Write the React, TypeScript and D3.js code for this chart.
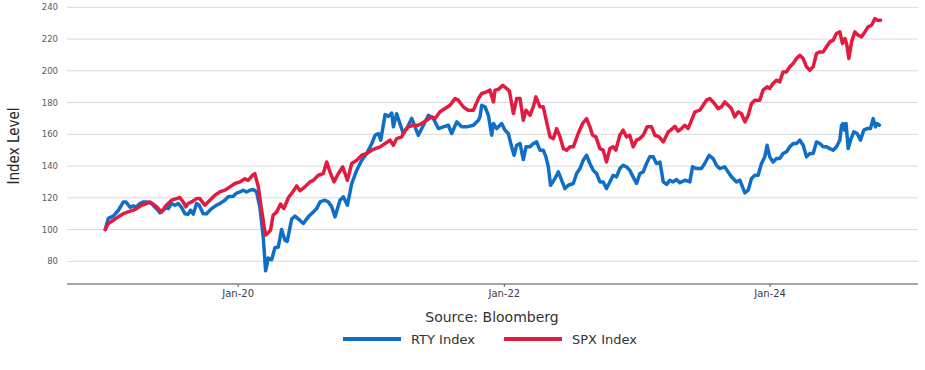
import React from "react";
import * as d3 from "d3";

// dates are decimal years, values are indexed to 100 at the start
const rtyDates = [
  2019.0, 2019.023, 2019.06, 2019.098, 2019.136, 2019.156, 2019.186, 2019.211, 2019.231, 2019.261,
  2019.286, 2019.311, 2019.349, 2019.374, 2019.399, 2019.411, 2019.436, 2019.461, 2019.474, 2019.499,
  2019.524, 2019.549, 2019.574, 2019.599, 2019.624, 2019.642, 2019.662, 2019.687, 2019.707, 2019.737,
  2019.762, 2019.8, 2019.837, 2019.862, 2019.9, 2019.925, 2019.963, 2019.988, 2020.013, 2020.038,
  2020.063, 2020.088, 2020.113, 2020.138, 2020.163, 2020.188, 2020.206, 2020.226, 2020.251, 2020.276,
  2020.301, 2020.326, 2020.351, 2020.368, 2020.401, 2020.426, 2020.462, 2020.489, 2020.526, 2020.564,
  2020.589, 2020.614, 2020.652, 2020.677, 2020.702, 2020.727, 2020.764, 2020.789, 2020.82, 2020.852,
  2020.89, 2020.927, 2020.965, 2021.003, 2021.028, 2021.053, 2021.07, 2021.103, 2021.128, 2021.153,
  2021.165, 2021.19, 2021.21, 2021.24, 2021.266, 2021.303, 2021.328, 2021.353, 2021.391, 2021.429,
  2021.466, 2021.504, 2021.541, 2021.579, 2021.604, 2021.642, 2021.679, 2021.717, 2021.767, 2021.805,
  2021.817, 2021.83, 2021.855, 2021.88, 2021.905, 2021.918, 2021.943, 2021.98, 2022.005, 2022.03,
  2022.055, 2022.073, 2022.093, 2022.118, 2022.143, 2022.163, 2022.193, 2022.218, 2022.243, 2022.268,
  2022.293, 2022.313, 2022.331, 2022.348, 2022.381, 2022.406, 2022.431, 2022.456, 2022.481, 2022.519,
  2022.544, 2022.569, 2022.594, 2022.619, 2022.644, 2022.669, 2022.694, 2022.719, 2022.744, 2022.769,
  2022.794, 2022.819, 2022.844, 2022.869, 2022.894, 2022.919, 2022.944, 2022.969, 2022.995, 2023.02,
  2023.045, 2023.07, 2023.095, 2023.12, 2023.145, 2023.171, 2023.196, 2023.221, 2023.246, 2023.27,
  2023.296, 2023.32, 2023.333, 2023.358, 2023.396, 2023.416, 2023.446, 2023.483, 2023.508, 2023.541,
  2023.571, 2023.596, 2023.621, 2023.659, 2023.684, 2023.709, 2023.747, 2023.772, 2023.792, 2023.81,
  2023.835, 2023.86, 2023.885, 2023.91, 2023.935, 2023.96, 2023.977, 2023.997, 2024.022, 2024.047,
  2024.072, 2024.097, 2024.122, 2024.148, 2024.173, 2024.198, 2024.223, 2024.248, 2024.273, 2024.298,
  2024.323, 2024.348, 2024.373, 2024.398, 2024.423, 2024.448, 2024.473, 2024.498, 2024.523, 2024.536,
  2024.546, 2024.56, 2024.57, 2024.586, 2024.603, 2024.628, 2024.653, 2024.678, 2024.703, 2024.728,
  2024.753, 2024.773, 2024.79, 2024.803, 2024.82,
];
const rtyValues = [
  100, 107, 108.4, 112, 117.4, 117.4, 114, 115, 114, 116.4,
  117.4, 117.4, 116.4, 114, 112, 110.5, 112.2, 114, 113.2, 116.4,
  115.3, 116.4, 114, 110, 109.7, 112.2, 109.7, 116.4, 115.3, 110,
  110, 113.2, 115.3, 116.4, 118.5, 120.6, 121, 123, 123.7, 124.8,
  123.7, 124.8, 125.2, 123.7, 114, 95.4, 74, 82, 81, 88.5,
  89, 100, 93.3, 92.5, 106.5, 108.5, 105.9, 103.8, 108, 111.1,
  113.2, 117.4, 118.5, 117.4, 114.3, 108, 118.5, 120.6, 115.3, 129,
  137.4, 143.7, 148, 154.2, 159.5, 160.5, 156.3, 172.4, 171.3, 173.4,
  164.7, 173, 167.8, 160.5, 163.6, 170, 164.7, 159.4, 165.7, 172,
  169.9, 163.6, 164.7, 165.7, 160.5, 167.8, 164.7, 164.7, 165.7, 168.9,
  171, 178.3, 177.2, 172, 159.4, 166.8, 163.6, 166.8, 162.6, 160.5,
  152.1, 146.8, 153.1, 154.2, 144.1, 152.1, 152.1, 154.2, 155.2, 150,
  150, 145.8, 139.5, 127.9, 132.1, 136.3, 131.1, 125.8, 127.9, 129,
  135.3, 138.4, 143.7, 146.8, 141.6, 137.4, 135.3, 130, 130, 125.8,
  130, 134.2, 133.2, 138.4, 140.5, 139.5, 137.4, 133.2, 129, 135.3,
  136.3, 141.6, 145.8, 145.8, 141.6, 142.5, 130, 128.5, 131.1, 130,
  131.5, 129.5, 130, 131.1, 130, 139.5, 138.4, 138.4, 141.6, 146.8,
  144.7, 140.5, 138.4, 139.5, 136.3, 133.2, 130, 131.1, 126.9, 123.1,
  124.8, 132.1, 134.2, 134.2, 141.6, 145.8, 153.1, 145.8, 142.6, 144.7,
  144.7, 147.9, 148.9, 152.1, 154.2, 154.2, 156.3, 153.1, 145.8, 147.9,
  147.9, 155.2, 154.2, 152.1, 152.1, 151, 150, 152.1, 156.3, 165.7,
  166.8, 162.6, 166.8, 151, 156.3, 161.5, 160.5, 156.3, 162.6, 163.6,
  163.6, 169.9, 164.7, 166.8, 165.7,
];

const spxDates = [
  2019.0, 2019.023, 2019.06, 2019.098, 2019.136, 2019.173, 2019.211, 2019.236, 2019.273, 2019.311,
  2019.336, 2019.361, 2019.386, 2019.411, 2019.424, 2019.449, 2019.474, 2019.499, 2019.536, 2019.561,
  2019.586, 2019.607, 2019.624, 2019.649, 2019.687, 2019.712, 2019.749, 2019.787, 2019.825, 2019.862,
  2019.9, 2019.938, 2019.975, 2020.013, 2020.05, 2020.075, 2020.108, 2020.125, 2020.151, 2020.176,
  2020.205, 2020.226, 2020.243, 2020.262, 2020.288, 2020.318, 2020.343, 2020.376, 2020.412, 2020.439,
  2020.464, 2020.501, 2020.539, 2020.564, 2020.602, 2020.639, 2020.664, 2020.689, 2020.719, 2020.752,
  2020.784, 2020.82, 2020.852, 2020.89, 2020.927, 2020.965, 2021.003, 2021.028, 2021.065, 2021.103,
  2021.14, 2021.165, 2021.19, 2021.228, 2021.253, 2021.278, 2021.316, 2021.353, 2021.378, 2021.416,
  2021.454, 2021.479, 2021.516, 2021.554, 2021.591, 2021.629, 2021.654, 2021.692, 2021.729, 2021.767,
  2021.805, 2021.83, 2021.867, 2021.892, 2021.918, 2021.93, 2021.955, 2021.988, 2022.018, 2022.038,
  2022.068, 2022.093, 2022.118, 2022.143, 2022.163, 2022.193, 2022.218, 2022.238, 2022.268, 2022.293,
  2022.318, 2022.344, 2022.369, 2022.394, 2022.419, 2022.444, 2022.469, 2022.494, 2022.519, 2022.556,
  2022.589, 2022.619, 2022.644, 2022.664, 2022.689, 2022.719, 2022.744, 2022.769, 2022.794, 2022.819,
  2022.839, 2022.869, 2022.894, 2022.919, 2022.944, 2022.969, 2022.995, 2023.02, 2023.045, 2023.075,
  2023.108, 2023.133, 2023.165, 2023.196, 2023.233, 2023.258, 2023.283, 2023.308, 2023.333, 2023.358,
  2023.383, 2023.409, 2023.434, 2023.471, 2023.496, 2023.521, 2023.546, 2023.571, 2023.609, 2023.634,
  2023.659, 2023.684, 2023.709, 2023.734, 2023.759, 2023.784, 2023.81, 2023.835, 2023.86, 2023.885,
  2023.922, 2023.947, 2023.977, 2023.997, 2024.022, 2024.047, 2024.072, 2024.097, 2024.122, 2024.148,
  2024.173, 2024.198, 2024.223, 2024.248, 2024.273, 2024.298, 2024.323, 2024.348, 2024.373, 2024.398,
  2024.423, 2024.448, 2024.473, 2024.498, 2024.523, 2024.543, 2024.561, 2024.574, 2024.591, 2024.611,
  2024.636, 2024.661, 2024.686, 2024.711, 2024.736, 2024.761, 2024.787, 2024.804, 2024.829,
];
const spxValues = [
  100, 103.8, 105.9, 108, 110, 111.1, 112.2, 113.2, 115.3, 116.4,
  117.4, 116, 114.3, 112.2, 111.1, 114.3, 116.4, 118.5, 119.5, 120.2,
  117.4, 114.3, 116.4, 117.4, 119.5, 119.5, 115.3, 118.5, 121.6, 123.7,
  124.8, 126.9, 129, 130, 132, 131, 134.2, 135.3, 127, 112,
  96.5, 98, 99.6, 109, 111, 116, 113.2, 120, 124, 127.5,
  124.5, 126.9, 130, 131, 134.2, 135.3, 142.6, 136.3, 130, 135.3,
  139.5, 131, 141.6, 143.7, 146.8, 147.9, 150, 151, 152.1, 154.2,
  156.3, 153.1, 157.3, 158.4, 162.6, 164.7, 165.7, 165.7, 166.8, 168.9,
  171, 170, 174.2, 176.3, 178.3, 182.5, 181.5, 177.2, 175.1, 175.1,
  182.5, 185.7, 186.7, 187.8, 180.4, 187.8, 188.3, 190.9, 188.8, 187.4,
  173.1, 182.5, 182.5, 168.9, 175.2, 172, 177.3, 183.6, 177.3, 177.3,
  167.8, 158.4, 157.3, 163.6, 158.4, 151, 150, 152.1, 152.1, 160.5,
  166.8, 169.9, 164.7, 159.4, 158.4, 151, 150, 142.6, 151, 152.1,
  150, 159.4, 162.6, 158.4, 159.4, 152.1, 156.3, 157.3, 159.4, 164.7,
  164.7, 159.4, 158.4, 155.2, 161.5, 163, 165, 162, 163.6, 165.7,
  163.6, 168.9, 174.1, 175.2, 178.3, 181.5, 182.5, 180.4, 176.2, 177.3,
  180.4, 178.3, 176.2, 171, 174.1, 173.1, 167.8, 172, 179.4, 181.5,
  181.5, 187.8, 189.9, 188.8, 192, 194.1, 193, 199.3, 199.3, 202.5,
  204.6, 207.7, 209.8, 207.7, 202.5, 200.4, 202.5, 210.9, 211.9, 211.9,
  215.1, 218.2, 219.3, 223.5, 224.5, 217.2, 220.3, 217.2, 207.7, 218.2,
  224.5, 222.4, 221.4, 224.5, 227.7, 228.7, 232.9, 231.9, 231.9,
];

const yTicks = [80, 100, 120, 140, 160, 180, 200, 220, 240];
const seriesNames = ["RTY Index", "SPX Index"];
const seriesColors = ["#0f6fc6", "#e31b3f"];

const toDate = (y: number) => {
  const yr = Math.floor(y);
  const start = Date.UTC(yr, 0, 1);
  const end = Date.UTC(yr + 1, 0, 1);
  return new Date(start + (y - yr) * (end - start));
};

const width = 925;
const height = 370;
const left = 67;
const right = 918;
const baseY = 284;

const App = () => {
  const x = d3
    .scaleUtc()
    .domain([toDate(2018.712), toDate(2025.11)])
    .range([left, right]);
  const y = d3.scaleLinear().domain([80, 240]).range([261.3, 7.3]);

  const line = d3
    .line<[number, number]>()
    .x((d) => x(toDate(d[0])))
    .y((d) => y(d[1]));

  const series = [
    rtyDates.map((d, i) => [d, rtyValues[i]] as [number, number]),
    spxDates.map((d, i) => [d, spxValues[i]] as [number, number]),
  ];

  const xTicks = x.ticks(d3.utcYear.every(2)!);
  const fmt = d3.utcFormat("%b-%y");

  return (
    <svg
      width={width}
      height={height}
      style={{ position: "absolute", left: 0, top: 0, background: "#fff" }}
      fontFamily="'DejaVu Sans', Verdana, sans-serif"
    >
      {/* gridlines + y labels */}
      {yTicks.map((t) => (
        <g key={t}>
          <line x1={left} x2={right} y1={y(t)} y2={y(t)} stroke="#d9d9d9" strokeWidth={1} />
          <text x={58} y={y(t)} dy="0.35em" textAnchor="end" fontSize={8.5} fill="#595959">
            {t}
          </text>
        </g>
      ))}

      {/* x axis */}
      <line x1={left} x2={right} y1={baseY} y2={baseY} stroke="#a6a6a6" strokeWidth={2} />
      {xTicks.map((t, i) => (
        <g key={i}>
          <line x1={x(t)} x2={x(t)} y1={baseY} y2={baseY + 3} stroke="#595959" strokeWidth={1} />
          <text x={x(t)} y={297} textAnchor="middle" fontSize={10} fill="#404040">
            {fmt(t)}
          </text>
        </g>
      ))}

      {/* y title */}
      <text
        transform="translate(19,146) rotate(-90)"
        textAnchor="middle"
        fontSize={15}
        fontFamily="'Liberation Sans Narrow', 'DejaVu Sans Condensed', sans-serif"
        fill="#262626"
      >
        Index Level
      </text>

      {/* lines */}
      {series.map((s, i) => (
        <path
          key={i}
          d={line(s) || ""}
          fill="none"
          stroke={seriesColors[i]}
          strokeWidth={3.5}
          strokeLinejoin="round"
          strokeLinecap="round"
        />
      ))}

      {/* source */}
      <text x={492} y={322} textAnchor="middle" fontSize={14} fill="#333">
        Source: Bloomberg
      </text>

      {/* legend */}
      {seriesNames.map((name, i) => {
        const lx = 343 + i * 161;
        return (
          <g key={name}>
            <line x1={lx} x2={lx + 58} y1={339} y2={339} stroke={seriesColors[i]} strokeWidth={4} />
            <text x={lx + 68} y={343.5} fontSize={13} fill="#333">
              {name}
            </text>
          </g>
        );
      })}
    </svg>
  );
};

export default App;
